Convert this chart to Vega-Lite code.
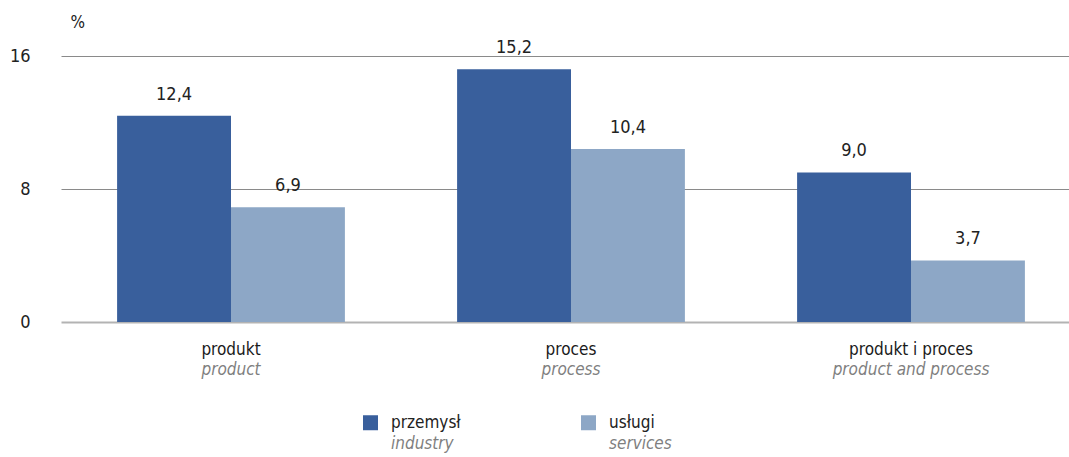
{
  "$schema": "https://vega.github.io/schema/vega-lite/v6.json",
  "width": 1005,
  "height": 266,
  "autosize": {"type": "none"},
  "padding": {"left": 61, "top": 56, "right": 3, "bottom": 135},
  "config": {
    "font": "Liberation Sans Narrow, DejaVu Sans Condensed, sans-serif",
    "view": {"stroke": null},
    "locale": {"number": {"decimal": ",", "thousands": " ", "grouping": [3], "currency": ["", " zł"]}}
  },
  "data": {
    "values": [
      {"cat": "produkt", "cat_en": "product", "series": "przemysł", "series_en": "industry", "value": 12.4},
      {"cat": "produkt", "cat_en": "product", "series": "usługi", "series_en": "services", "value": 6.9},
      {"cat": "proces", "cat_en": "process", "series": "przemysł", "series_en": "industry", "value": 15.2},
      {"cat": "proces", "cat_en": "process", "series": "usługi", "series_en": "services", "value": 10.4},
      {"cat": "produkt i proces", "cat_en": "product and process", "series": "przemysł", "series_en": "industry", "value": 9.0},
      {"cat": "produkt i proces", "cat_en": "product and process", "series": "usługi", "series_en": "services", "value": 3.7}
    ]
  },
  "layer": [
    {
      "mark": {"type": "bar"},
      "encoding": {
        "x": {"field": "cat", "type": "nominal", "sort": null, "axis": null,
              "scale": {"range": [0, 1020], "paddingInner": 0.33, "paddingOuter": 0.165}},
        "xOffset": {"field": "series", "type": "nominal", "sort": null},
        "y": {"field": "value", "type": "quantitative",
              "scale": {"domain": [0, 16], "nice": false},
              "axis": {
                "values": [0, 8, 16], "domain": false, "ticks": false,
                "labelPadding": 31, "labelFontSize": 18, "labelColor": "#222222",
                "gridColor": {"condition": {"test": "datum.value === 0", "value": "#b3b3b3"}, "value": "#8a8a8a"},
                "gridWidth": {"condition": {"test": "datum.value === 0", "value": 2}, "value": 1},
                "title": "%", "titleAngle": 0, "titleAlign": "left", "titleBaseline": "middle",
                "titleX": 9, "titleY": -34, "titleFontSize": 17, "titleFontWeight": "normal", "titleColor": "#222222"
              }},
        "color": {"field": "series", "type": "nominal", "sort": null,
                  "scale": {"range": ["#395f9c", "#8da7c6"]},
                  "legend": {
                    "title": null, "orient": "none", "direction": "horizontal",
                    "legendX": 301, "legendY": 358,
                    "symbolType": "square", "symbolSize": 225, "symbolStrokeWidth": 0, "symbolOpacity": 1,
                    "labelFontSize": 17, "labelColor": "#222222", "labelOffset": 12,
                    "columnPadding": 119
                  }}
      }
    },
    {
      "mark": {"type": "text", "baseline": "alphabetic", "dy": -16, "fontSize": 18, "color": "#222222"},
      "encoding": {
        "x": {"field": "cat", "type": "nominal", "sort": null},
        "xOffset": {"field": "series", "type": "nominal", "sort": null},
        "y": {"field": "value", "type": "quantitative"},
        "text": {"field": "value", "type": "quantitative", "format": ".1f"},
        "opacity": {"field": "series_en", "type": "ordinal", "sort": null,
                    "scale": {"range": [1, 1]},
                    "legend": {
                      "title": null, "orient": "none", "direction": "horizontal",
                      "legendX": 301, "legendY": 379,
                      "symbolType": "M0,0", "symbolSize": 225, "symbolStrokeWidth": 0,
                      "labelFontSize": 17, "labelColor": "#7f7f7f", "labelFontStyle": "italic", "labelOffset": 12,
                      "columnPadding": 126
                    }}
      }
    },
    {
      "transform": [{"filter": "datum.series == 'przemysł'"}],
      "mark": {"type": "text", "baseline": "middle", "dy": 28, "fontSize": 17, "color": "#1a1a1a"},
      "encoding": {
        "x": {"field": "cat", "type": "nominal", "sort": null},
        "y": {"datum": 0},
        "text": {"field": "cat"}
      }
    },
    {
      "transform": [{"filter": "datum.series == 'przemysł'"}],
      "mark": {"type": "text", "baseline": "middle", "dy": 48, "fontSize": 17, "fontStyle": "italic", "color": "#7f7f7f"},
      "encoding": {
        "x": {"field": "cat", "type": "nominal", "sort": null},
        "y": {"datum": 0},
        "text": {"field": "cat_en"}
      }
    }
  ]
}
